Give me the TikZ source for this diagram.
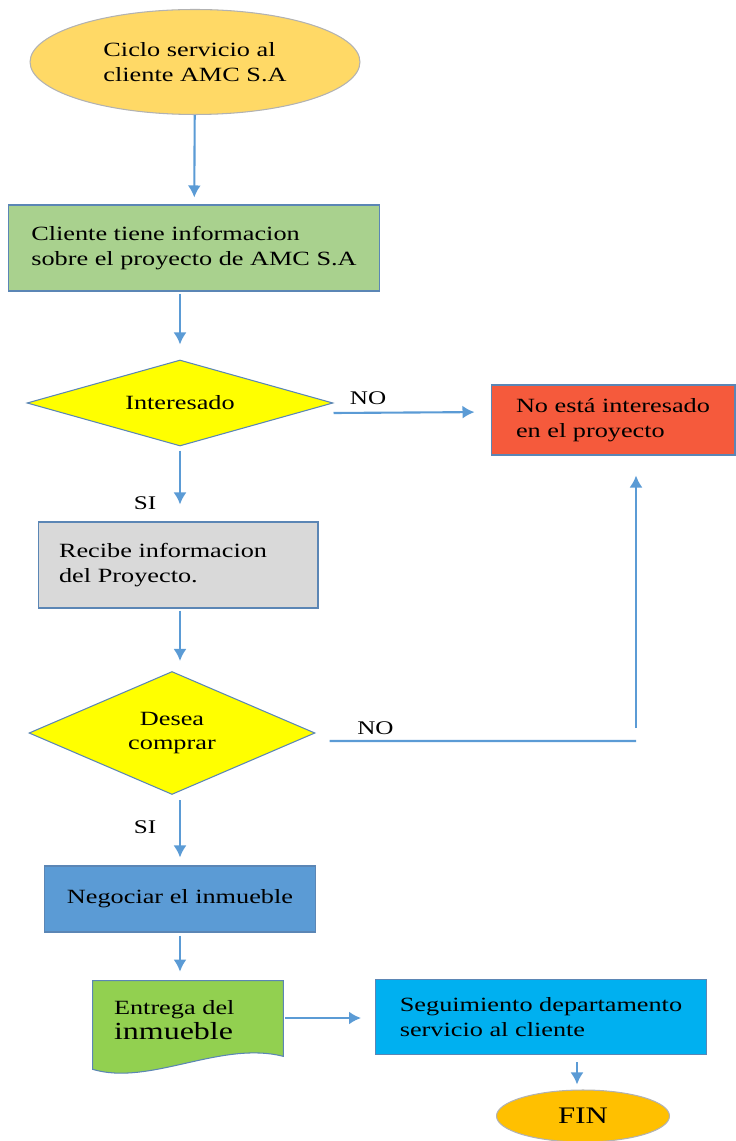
\documentclass[tikz,border=0pt]{standalone}
\usepackage{fontspec}
\setmainfont{Liberation Serif}[FakeStretch=1.3]
\usepackage{xcolor}
\usetikzlibrary{positioning, arrows.meta, shapes.geometric, backgrounds}

\definecolor{borde}{HTML}{5B86B5}
\definecolor{linea}{HTML}{5B9BD5}
\definecolor{ciclo}{HTML}{FFD966}
\definecolor{verdeinfo}{HTML}{A9D18E}
\definecolor{rojo}{HTML}{F55A3C}
\definecolor{gris}{HTML}{D9D9D9}
\definecolor{amarillo}{HTML}{FFFF00}
\definecolor{azul}{HTML}{5B9BD5}
\definecolor{verdedoc}{HTML}{92D050}
\definecolor{cian}{HTML}{00B0F0}
\definecolor{naranja}{HTML}{FFC000}

\begin{document}
\begin{tikzpicture}[
    x=0.02cm, y=-0.02cm,
    every node/.style={font=\fontsize{11.5}{14}\selectfont},
    caja/.style={
        draw=borde,
        line width=0.6pt,
        rectangle,
        align=left,
        inner xsep=0.42cm,
        inner ysep=0pt
    },
    decision/.style={draw=borde, line width=0.6pt, diamond, fill=amarillo, inner sep=0pt, align=center},
    terminal/.style={ellipse, draw=gray!60, line width=0.6pt, inner sep=0pt, align=left},
    flecha/.style={-{Latex[length=0.24cm,width=0.26cm]}, line width=1.2pt, draw=linea},
    etiqueta/.style={font=\fontsize{11}{13}\selectfont, inner sep=1pt, text=black}
]
\useasboundingbox (0,0) rectangle (735,1141);

\node[terminal, fill=ciclo, minimum width=6.6cm, minimum height=2.1cm] (inicio) at (195,62) {Ciclo servicio al\\cliente AMC S.A};
\node[caja, fill=verdeinfo, minimum width=7.44cm, minimum height=1.72cm] (info) at (194,248) {Cliente tiene informacion\\sobre el proyecto de AMC S.A};
\node[decision, shape aspect=3.5, minimum width=6.12cm, minimum height=1.72cm] (interes) at (180,403) {Interesado};
\node[caja, fill=rojo, minimum width=4.88cm, minimum height=1.4cm] (nointeres) at (613,420) {No está interesado\\en el proyecto};
\node[caja, fill=gris, text width=4.76cm, minimum height=1.72cm] (recibe) at (178,565) {Recibe informacion\\del Proyecto.};
\node[decision, shape aspect=2.3, minimum width=5.72cm, minimum height=2.46cm] (desea) at (172,733) {Desea\\comprar};
\node[caja, fill=azul, minimum width=5.42cm, minimum height=1.32cm] (negociar) at (180,899) {Negociar el inmueble};
\node[rectangle, align=left, inner xsep=0.42cm, inner ysep=0pt, text width=2.96cm, minimum height=1.56cm] (entrega) at (188,1020) {Entrega del\\{\fontsize{14}{17}\selectfont inmueble}};
\node[caja, fill=cian, minimum width=6.62cm, minimum height=1.5cm] (seguimiento) at (541,1017) {Seguimiento departamento\\servicio al cliente};
\node[terminal, fill=naranja, minimum width=3.46cm, minimum height=1.04cm, font=\fontsize{13.5}{16}\selectfont] (fin) at (583,1116) {FIN};

% documento con borde ondulado
\begin{scope}[on background layer]
\draw[borde, line width=0.6pt, fill=verdedoc] (entrega.north west) -- (entrega.north east) -- ([yshift=0.06cm]entrega.south east)
    .. controls +(-63,-16) and +(57,17) .. ([yshift=-0.2cm]entrega.south west) -- cycle;
\end{scope}

\draw[flecha, shorten >=0.14cm] (inicio) -- (info);
\draw[flecha, shorten <=0.04cm, shorten >=0.3cm] (info.south -| interes) -- (interes);
\draw[flecha, shorten <=0.08cm, shorten >=0.34cm] (interes.south) -- node[etiqueta, pos=0.75, left=0.42cm]{SI} (interes |- recibe.north);
\draw[flecha, shorten <=0.04cm, shorten >=0.2cm] (recibe.south -| interes) -- (interes |- desea.north);
\draw[flecha, shorten <=0.1cm, shorten >=0.16cm] (desea.south -| interes) -- node[etiqueta, pos=0.46, left=0.42cm]{SI} (interes |- negociar.north);
\draw[flecha, shorten <=0.06cm, shorten >=0.18cm] (negociar.south -| interes) -- (interes |- entrega.north);
\draw[flecha, shorten <=0.04cm, shorten >=0.28cm] ([yshift=0.04cm]entrega.east) -- ([yshift=0.04cm]seguimiento.west |- entrega.east);
\draw[flecha, shorten <=0.14cm, shorten >=0.1cm] (seguimiento.south -| 577,0) -- (fin.north -| 577,0);

% ramas NO
\draw[flecha, shorten >=0.32cm] ([yshift=-0.2cm]interes.east) -- node[etiqueta, pos=0.22, above=0.1cm]{NO} ([yshift=0.16cm]nointeres.west);
\coordinate (giro) at (636,741);
\draw[draw=linea, line width=1.2pt] ([xshift=0.28cm,yshift=-0.16cm]desea.east) -- node[etiqueta, pos=0.15, above=0.08cm]{NO} (giro);
\draw[flecha, shorten >=0.4cm] ([yshift=0.26cm]giro) -- (giro |- nointeres.south);

\end{tikzpicture}
\end{document}
